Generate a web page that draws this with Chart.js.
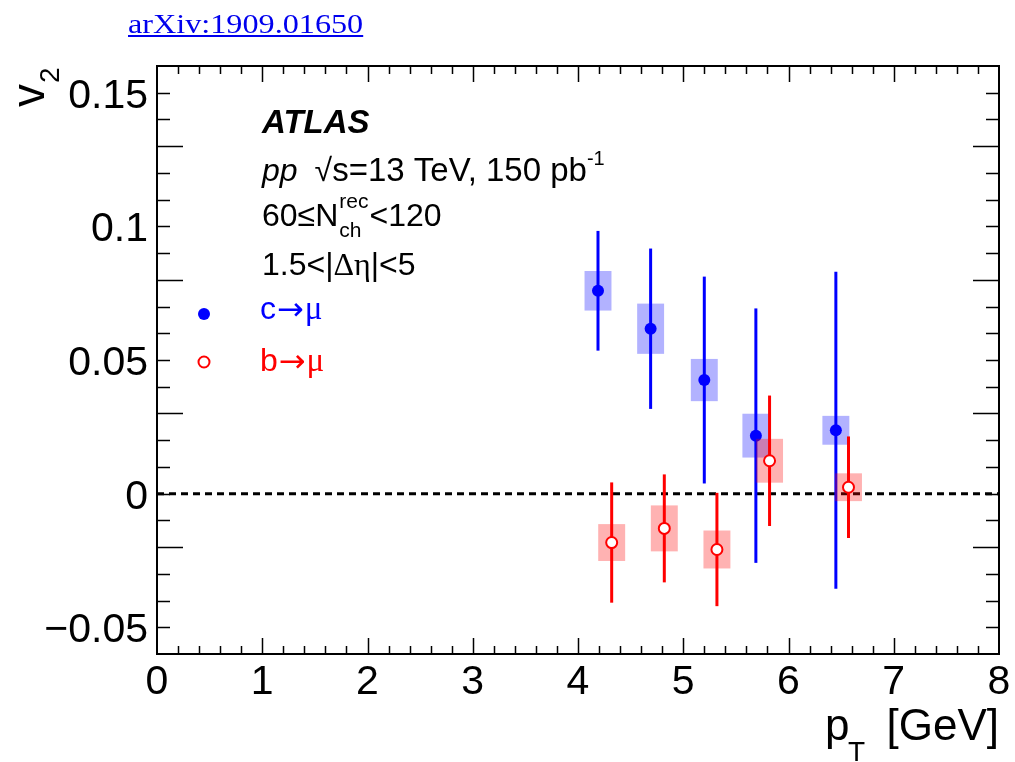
<!DOCTYPE html>
<html>
<head>
<meta charset="utf-8">
<script src="https://cdn.jsdelivr.net/npm/chart.js@4.4.1/dist/chart.umd.min.js"></script>
<style>
  html, body { margin: 0; padding: 0; background: #fff; }
  #wrap { position: relative; width: 1015px; height: 762px; overflow: hidden; }
  #c { position: absolute; left: 0; top: 0; }
  #ref {
    position: absolute; left: 128px; top: 10px; z-index: 2;
    font: 28px "Liberation Serif", "Times New Roman", serif; line-height: 28px;
    color: #0000ee; text-decoration: underline; white-space: nowrap;
    transform: scaleX(1.15); transform-origin: 0 0;
  }
</style>
</head>
<body>
<div id="wrap">
  <a id="ref" href="https://arxiv.org/abs/1909.01650">arXiv:1909.01650</a>
  <canvas id="c" width="1015" height="762"></canvas>
</div>
<script>
// c -> mu : pT [GeV], v2, statistical and systematic uncertainties
const ptC   = [4.19, 4.69, 5.20, 5.69, 6.45];
const v2C   = [0.0759, 0.0617, 0.0425, 0.0217, 0.0237];
const statC = [0.0224, 0.0300, 0.0387, 0.0476, 0.0593];
const sysC  = [0.0074, 0.0094, 0.0079, 0.0082, 0.0054];

// b -> mu
const ptB   = [4.32, 4.82, 5.32, 5.82, 6.57];
const v2B   = [-0.0183, -0.0130, -0.0209, 0.0123, 0.0024];
const statB = [0.0225, 0.0202, 0.0212, 0.0244, 0.0190];
const sysB  = [0.0069, 0.0086, 0.0071, 0.0082, 0.0052];

// half width of the systematic boxes along pT
const boxHalfWidth = 0.128;

// axis ranges and tick labels
const xRange = [0, 8];
const yRange = [-0.06, 0.16];
const xTickValues = [0, 1, 2, 3, 4, 5, 6, 7, 8];
const xTickLabels = ['0', '1', '2', '3', '4', '5', '6', '7', '8'];
const yTickValues = [-0.05, 0, 0.05, 0.1, 0.15];
const yTickLabels = ['\u22120.05', '0', '0.05', '0.1', '0.15'];
const xMinorStep = 0.2;
const yMinorStep = 0.01;

const SANS = '"Liberation Sans", Arial, Helvetica, sans-serif';
const SERIF = '"Liberation Serif", "Times New Roman", serif';
const ARROW = '"DejaVu Sans", sans-serif';

const series = [
  { pt: ptC, v: v2C, stat: statC, sys: sysC, line: '#0000ff', box: 'rgba(0,0,255,0.30)' },
  { pt: ptB, v: v2B, stat: statB, sys: sysB, line: '#ff0000', box: 'rgba(255,0,0,0.30)' }
];

function toPoints(pt, v) { return pt.map((x, i) => ({ x: x, y: v[i] })); }

// draws a sequence of text pieces with their own fonts / offsets
function drawRuns(ctx, x, y, runs, color) {
  ctx.fillStyle = color || '#000';
  ctx.textAlign = 'left';
  ctx.textBaseline = 'alphabetic';
  for (const r of runs) {
    ctx.font = r.font;
    ctx.fillText(r.t, x + (r.dx || 0), y + (r.dy || 0));
    x += (r.dx || 0) + ctx.measureText(r.t).width + (r.gap || 0);
  }
  return x;
}

const rootStyle = {
  id: 'rootStyle',
  beforeDatasetsDraw(chart) {
    const { ctx, chartArea: a, scales: { y } } = chart;
    const y0 = y.getPixelForValue(0);
    ctx.save();
    ctx.strokeStyle = '#000';
    ctx.lineWidth = 3;
    ctx.setLineDash([7, 5]);
    ctx.beginPath();
    ctx.moveTo(a.left, y0);
    ctx.lineTo(a.right, y0);
    ctx.stroke();
    ctx.restore();
  },
  beforeDatasetDraw(chart, args) {
    const s = series[args.index];
    if (!s) return;
    const { ctx, scales: { x, y } } = chart;
    ctx.save();
    // systematic boxes
    ctx.fillStyle = s.box;
    s.pt.forEach((p, i) => {
      const l = x.getPixelForValue(p - boxHalfWidth);
      const r = x.getPixelForValue(p + boxHalfWidth);
      const t = y.getPixelForValue(s.v[i] + s.sys[i]);
      const b = y.getPixelForValue(s.v[i] - s.sys[i]);
      ctx.fillRect(l, t, r - l, b - t);
    });
    // statistical error bars
    ctx.strokeStyle = s.line;
    ctx.lineWidth = 3;
    s.pt.forEach((p, i) => {
      const px = x.getPixelForValue(p);
      ctx.beginPath();
      ctx.moveTo(px, y.getPixelForValue(s.v[i] + s.stat[i]));
      ctx.lineTo(px, y.getPixelForValue(s.v[i] - s.stat[i]));
      ctx.stroke();
    });
    ctx.restore();
  },
  afterDraw(chart) {
    const { ctx, chartArea: a, scales: { x, y } } = chart;
    ctx.save();

    // ticks on all four sides, pointing inwards
    ctx.strokeStyle = '#000';
    ctx.lineWidth = 1.5;
    ctx.beginPath();
    const nx = Math.round((xRange[1] - xRange[0]) / xMinorStep);
    for (let k = 1; k < nx; k++) {
      const v = xRange[0] + k * xMinorStep;
      const px = Math.round(x.getPixelForValue(v)) + 0.5;
      const len = (k % 5 === 0) ? 16 : 8;
      ctx.moveTo(px, a.bottom); ctx.lineTo(px, a.bottom - len);
      ctx.moveTo(px, a.top); ctx.lineTo(px, a.top + len);
    }
    const ny = Math.round((yRange[1] - yRange[0]) / yMinorStep);
    for (let k = 1; k < ny; k++) {
      const v = yRange[0] + k * yMinorStep;
      const py = Math.round(y.getPixelForValue(v)) + 0.5;
      const major = ((k + 1) % 5 === 0);
      const len = major ? 26 : 13;
      ctx.moveTo(a.left, py); ctx.lineTo(a.left + len, py);
      ctx.moveTo(a.right, py); ctx.lineTo(a.right - len, py);
    }
    ctx.stroke();

    // frame
    ctx.lineWidth = 2;
    ctx.strokeRect(a.left, a.top, a.right - a.left, a.bottom - a.top);

    // tick labels
    ctx.fillStyle = '#000';
    ctx.font = '41px ' + SANS;
    ctx.textBaseline = 'alphabetic';
    ctx.textAlign = 'center';
    xTickValues.forEach((v, i) => ctx.fillText(xTickLabels[i], x.getPixelForValue(v), 694));
    ctx.textAlign = 'right';
    yTickValues.forEach((v, i) => ctx.fillText(yTickLabels[i], a.left - 9, y.getPixelForValue(v) + 15));

    // axis titles
    ctx.textAlign = 'left';
    ctx.font = '44px ' + SANS;
    ctx.fillText('p', 825, 740);
    ctx.font = '28px ' + SANS;
    ctx.fillText('T', 848, 761);
    ctx.font = '44px ' + SANS;
    ctx.textAlign = 'right';
    ctx.fillText('[GeV]', 999, 740);

    ctx.save();
    ctx.translate(44, 107);
    ctx.rotate(-Math.PI / 2);
    ctx.textAlign = 'left';
    ctx.font = '46px ' + SANS;
    ctx.fillText('v', 0, 0);
    const vw = ctx.measureText('v').width;
    ctx.font = '28px ' + SANS;
    ctx.fillText('2', vw + 1, 15);
    ctx.restore();

    // label block
    drawRuns(ctx, 262, 133, [{ t: 'ATLAS', font: 'italic bold 33px ' + SANS }]);
    drawRuns(ctx, 262, 181, [
      { t: 'pp', font: 'italic 32px ' + SANS, gap: 17 },
      { t: '\u221A', font: '32px ' + SANS, gap: 0 },
      { t: 's=13 TeV, 150 pb', font: '33px ' + SANS },
      { t: '-1', font: '20px ' + SANS, dy: -16 }
    ]);
    let xe = drawRuns(ctx, 262, 226, [
      { t: '60\u2264N', font: '32px ' + SANS }
    ]);
    ctx.font = '21px ' + SANS;
    ctx.fillText('rec', xe + 1, 208);
    ctx.fillText('ch', xe + 1, 237);
    const sw = Math.max(ctx.measureText('rec').width, ctx.measureText('ch').width);
    drawRuns(ctx, xe + 2 + sw, 226, [{ t: '<120', font: '32px ' + SANS }]);
    drawRuns(ctx, 262, 275, [
      { t: '1.5<|', font: '32px ' + SANS },
      { t: '\u0394\u03B7', font: '32px ' + SERIF },
      { t: '|<5', font: '32px ' + SANS }
    ]);

    // legend
    ctx.beginPath();
    ctx.arc(204, 314, 6, 0, Math.PI * 2);
    ctx.fillStyle = '#0000ff';
    ctx.fill();
    drawRuns(ctx, 260, 319, [
      { t: 'c', font: '32px ' + SANS, gap: 1 },
      { t: '\u2192', font: '32px ' + ARROW, dy: 1, gap: 1 },
      { t: '\u03BC', font: '33px ' + SERIF }
    ], '#0000ff');

    ctx.beginPath();
    ctx.arc(204, 362, 5.5, 0, Math.PI * 2);
    ctx.fillStyle = '#fff';
    ctx.fill();
    ctx.lineWidth = 2;
    ctx.strokeStyle = '#ff0000';
    ctx.stroke();
    drawRuns(ctx, 260, 371, [
      { t: 'b', font: '32px ' + SANS, gap: 1 },
      { t: '\u2192', font: '32px ' + ARROW, dy: 1, gap: 1 },
      { t: '\u03BC', font: '33px ' + SERIF }
    ], '#ff0000');

    ctx.restore();
  }
};

new Chart(document.getElementById('c'), {
  type: 'scatter',
  data: {
    datasets: [
      {
        label: 'c\u2192\u03BC',
        data: toPoints(ptC, v2C),
        pointRadius: 6, pointHoverRadius: 6,
        pointBackgroundColor: '#0000ff', pointBorderColor: '#0000ff', pointBorderWidth: 0,
        order: 2
      },
      {
        label: 'b\u2192\u03BC',
        data: toPoints(ptB, v2B),
        pointRadius: 5.5, pointHoverRadius: 5.5,
        pointBackgroundColor: '#ffffff', pointBorderColor: '#ff0000', pointBorderWidth: 2,
        order: 1
      }
    ]
  },
  options: {
    responsive: false,
    animation: false,
    events: [],
    layout: { padding: { left: 0, right: 16, top: 66, bottom: 0 } },
    plugins: { legend: { display: false }, tooltip: { enabled: false } },
    scales: {
      x: {
        type: 'linear', min: xRange[0], max: xRange[1],
        grid: { display: false }, border: { display: false },
        ticks: { display: false },
        afterFit(s) { s.height = 108; }
      },
      y: {
        type: 'linear', min: yRange[0], max: yRange[1],
        grid: { display: false }, border: { display: false },
        ticks: { display: false },
        afterFit(s) { s.width = 157; }
      }
    }
  },
  plugins: [rootStyle]
});
</script>
</body>
</html>
